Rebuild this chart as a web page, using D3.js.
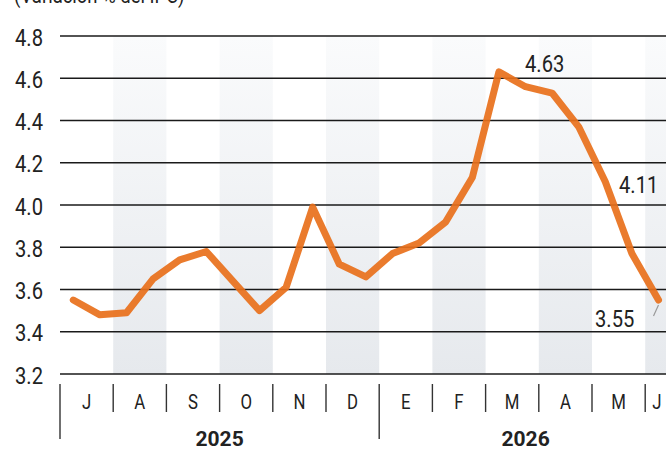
<html>
<head>
<meta charset="utf-8">
<script src="https://d3js.org/d3.v7.min.js"></script>
<style>
  body { margin: 0; background: #fff; }
  text { font-family: Roboto, 'Liberation Sans', sans-serif; fill: #222; }
  .year { font-weight: 700; }
</style>
</head>
<body>
<div id="chart"></div>
<script>
// datos
var months = ["J","A","S","O","N","D","E","F","M","A","M","J"];
var monthKeys = ["2025-07","2025-08","2025-09","2025-10","2025-11","2025-12",
                 "2026-01","2026-02","2026-03","2026-04","2026-05","2026-06"];
var years = ["2025","2026"];
var yearStart = [0, 6];     // indice del primer mes de cada año
var yTicks = [3.2, 3.4, 3.6, 3.8, 4.0, 4.2, 4.4, 4.6, 4.8];
// valores quincenales
var values = [3.55, 3.48, 3.49, 3.65, 3.74, 3.78, 3.64, 3.50, 3.61, 3.99, 3.72, 3.66,
              3.77, 3.82, 3.92, 4.13, 4.63, 4.56, 4.53, 4.37, 4.11, 3.77, 3.55];
var labelIdx = [16, 20, 22];
var labelText = ["4.63", "4.11", "3.55"];

var w = 666, h = 452;
var mLeft = 60, mTop = 36, mBottom = 374;
var monthW = 53.2;
var sx = 0.84; // letra estrecha

function narrow(sel, fx, fy) {
  sel.attr('transform', function(d, i){
    return 'translate(' + fx(d, i) + ',' + fy(d, i) + ') scale(' + sx + ',1)';
  });
}

var svg = d3.select('#chart').append('svg').attr('width', w).attr('height', h);

var x = d3.scaleBand().domain(monthKeys).range([mLeft, mLeft + monthW * months.length]);
var xq = d3.scaleLinear().domain([0, months.length * 2]).range([mLeft, mLeft + monthW * months.length]);
var y = d3.scaleLinear().domain([3.2, 4.8]).range([mBottom, mTop]);

// degradado de las bandas
var grad = svg.append('defs').append('linearGradient').attr('id', 'band')
  .attr('x1', 0).attr('y1', 0).attr('x2', 0).attr('y2', 1);
grad.append('stop').attr('offset', '0%').attr('stop-color', '#fafbfc');
grad.append('stop').attr('offset', '100%').attr('stop-color', '#e6e9ed');

svg.selectAll('rect.band').data(monthKeys.filter(function(d, i){ return i % 2 == 1; }))
  .enter().append('rect').attr('class', 'band')
  .attr('x', function(d){ return x(d); }).attr('y', y(4.8))
  .attr('width', x.bandwidth()).attr('height', y(3.2) - y(4.8))
  .attr('fill', 'url(#band)');

// titulo (cortado arriba)
svg.append('text').attr('font-size', 22).text('(Variación % del IPC)')
  .call(narrow, function(){ return 14; }, function(){ return 3; });

// grid
svg.selectAll('line.grid').data(yTicks).enter().append('line').attr('class', 'grid')
  .attr('x1', mLeft).attr('x2', w)
  .attr('y1', function(d){ return y(d); }).attr('y2', function(d){ return y(d); })
  .attr('stroke', '#1a1a1a').attr('stroke-width', 1.3);

svg.selectAll('text.ylab').data(yTicks).enter().append('text').attr('class', 'ylab')
  .attr('dy', '0.36em').attr('text-anchor', 'end').attr('font-size', 24)
  .text(function(d){ return d3.format('.1f')(d); })
  .call(narrow, function(){ return 43; }, function(d){ return y(d) + 1; });

// eje de meses
svg.selectAll('line.sep').data(monthKeys).enter().append('line').attr('class', 'sep')
  .attr('x1', function(d){ return x(d); }).attr('x2', function(d){ return x(d); })
  .attr('y1', 384)
  .attr('y2', function(d, i){ return yearStart.indexOf(i) >= 0 ? 439 : 412; })
  .attr('stroke', '#333').attr('stroke-width', 1.4);

svg.selectAll('text.mes').data(monthKeys).enter().append('text').attr('class', 'mes')
  .attr('text-anchor', 'middle').attr('font-size', 20)
  .text(function(d, i){ return months[i]; })
  .call(narrow, function(d){ return Math.min(x(d) + x.bandwidth() / 2, w - 9); }, function(){ return 409; });

svg.selectAll('text.year').data(years).enter().append('text').attr('class', 'year')
  .attr('x', function(d, i){
    var a = x(monthKeys[yearStart[i]]);
    var b = i + 1 < years.length ? x(monthKeys[yearStart[i + 1]]) : Math.min(x.range()[1], w + 6);
    return (a + b) / 2;
  })
  .attr('y', 446).attr('text-anchor', 'middle').attr('font-size', 21)
  .text(function(d){ return d; });

// linea
var line = d3.line().x(function(d, i){ return xq(i + 0.5); }).y(function(d){ return y(d); });
svg.append('path').attr('d', line(values)).attr('fill', 'none')
  .attr('stroke', '#e8701b').attr('stroke-opacity', 0.92).attr('stroke-width', 7)
  .attr('stroke-linejoin', 'round').attr('stroke-linecap', 'round');

// etiquetas
var lx = [525, 619, 595], ly = [72, 193, 327];
svg.selectAll('text.lab').data(labelIdx).enter().append('text').attr('class', 'lab')
  .attr('font-size', 24).text(function(d, i){ return labelText[i]; })
  .call(narrow, function(d, i){ return lx[i]; }, function(d, i){ return ly[i]; });

// guia de la ultima etiqueta
var last = values.length - 1;
svg.append('line')
  .attr('x1', xq(last + 0.5)).attr('y1', y(values[last]) + 5)
  .attr('x2', xq(last + 0.5) - 5).attr('y2', y(values[last]) + 16)
  .attr('stroke', '#999').attr('stroke-width', 1.2);
</script>
</body>
</html>
